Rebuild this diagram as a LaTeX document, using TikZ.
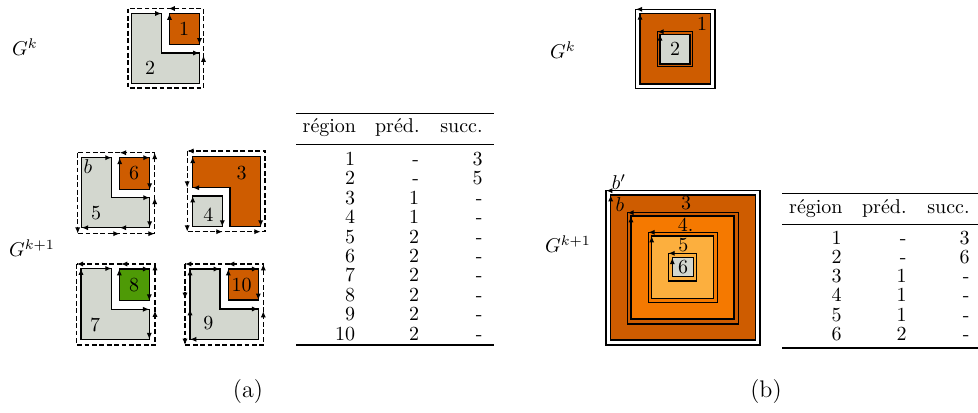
\documentclass[tikz,border=0pt]{standalone}
\usepackage{amsmath}
\usepackage{xcolor}
\usetikzlibrary{arrows.meta}

\definecolor{tgray}{HTML}{D3D7CF}
\definecolor{torange}{HTML}{CE5C00}
\definecolor{torangemid}{HTML}{F57900}
\definecolor{torangelight}{HTML}{FCAF3E}
\definecolor{tgreen}{HTML}{4E9A06}

\tikzset{
	region/.style={draw=black,line width=0.75pt},
	arr/.style={line width=0.75pt,-{Latex[length=3.2pt,width=2.6pt]}},
	tip/.style={line width=0.6pt,-{Latex[length=3.2pt,width=2.6pt]}},
	bnd/.style={line width=0.6pt,dash pattern=on 2.4pt off 1.3pt},
	hrule/.style={line width=0.8pt},
	lrule/.style={line width=0.5pt}
}

\begin{document}
\begin{tikzpicture}[x=0.5pt,y=-0.5pt]
	\useasboundingbox (0,0) rectangle (978,412);

	% (a) G^k
	\node (gk-a) at (25,47) {$G^k$};
	\begin{scope}[shift={(131.5,13.5)}]
		\draw[bnd] (-3.5,-5) rectangle (72,74.5);
		\draw[region,fill=tgray] (0,0) -- (30,0) -- (30,39.5) -- (68,39.5) -- (68,70) -- (0,70) -- cycle;
		\draw[region,fill=torange] (38,0) rectangle (68,31);
		\draw[arr] (0,0) -- (30,0);
		\draw[arr] (38,31) -- (38,0);
		\draw[arr] (68,0) -- (68,31);
		\draw[arr] (30,39.5) -- (68,39.5);
		\draw[tip] (44,-5) -- (37,-5);
		\draw[tip] (72,49) -- (72,42);
		\node (r2) at (18.5,54.5) {2};
		\node (r1) at (52.5,15.5) {1};
	\end{scope}

	% (a) G^{k+1}
	\node (gk1-a) at (32,248) {$G^{k+1}$};
	\begin{scope}[shift={(81.7,157.7)}]
		\draw[bnd] (-4,-5) rectangle (73,76);
		\draw[region,fill=tgray] (0,0) -- (30,0) -- (30,40) -- (68,40) -- (68,70) -- (0,70) -- cycle;
		\draw[region,fill=torange] (38,0) rectangle (68,32);
		\draw[arr] (0,0) -- (30,0);
		\draw[arr] (38,32) -- (38,0);
		\draw[arr] (38,0) -- (68,0);
		\draw[arr] (68,0) -- (68,32);
		\draw[arr] (30,40) -- (68,40);
		\draw[arr] (68,40) -- (68,70);
		\draw[arr] (68,70) -- (38,70);
		\draw[arr] (38,70) -- (0,70);
		\draw[tip] (45,-5) -- (38,-5);
		\draw[tip] (-4,69) -- (-4,76);
		\draw[tip] (31,76) -- (38,76);
		\draw[tip] (66,76) -- (73,76);
		\draw[tip] (73,47) -- (73,40);
		\draw[tip] (73,2) -- (73,-5);
		\node (lb) at (6.3,9.3) {$b$};
		\node (r5) at (14.3,55.3) {5};
		\node (r6) at (52.3,15.3) {6};
	\end{scope}
	\begin{scope}[shift={(192.7,156.7)}]
		\draw[bnd] (-5.5,-5.7) rectangle (72.3,75);
		\draw[region,fill=torange] (0,0) -- (68,0) -- (68,70) -- (37.5,70) -- (37.5,31) -- (0,31) -- cycle;
		\draw[region,fill=tgray] (0,39.3) rectangle (29.6,70);
		\draw[arr] (0,31) -- (0,0);
		\draw[arr] (37.5,31) -- (0,31);
		\draw[arr] (68,0) -- (68,70);
		\draw[arr] (0,70) -- (0,39.3);
		\draw[arr] (29.6,39.3) -- (29.6,70);
		\draw[tip] (1.5,-5.7) -- (-5.5,-5.7);
		\draw[tip] (-5.5,24) -- (-5.5,31);
		\draw[tip] (-5.5,68) -- (-5.5,75);
		\draw[tip] (23,75) -- (30,75);
		\draw[tip] (61,75) -- (68,75);
		\node (r3) at (49,16.6) {3};
		\node (r4) at (15.6,58.3) {4};
	\end{scope}
	\begin{scope}[shift={(81,268.5)}]
		\draw[bnd] (-4.3,-4.5) rectangle (74,76.5);
		\draw[region,fill=tgray] (0,0) -- (30.7,0) -- (30.7,40.8) -- (68.3,40.8) -- (68.3,70.8) -- (0,70.8) -- cycle;
		\draw[region,fill=tgreen] (38.3,0.5) rectangle (68.3,32.2);
		\draw[arr] (0,70.8) -- (0,0);
		\draw[arr] (0,0) -- (30.7,0);
		\draw[arr] (38.3,32.2) -- (38.3,0.5);
		\draw[arr] (38.3,0.5) -- (68.3,0.5);
		\draw[arr] (68.3,0.5) -- (68.3,32.2);
		\draw[arr] (30.7,40.8) -- (68.3,40.8);
		\draw[arr] (68.3,40.8) -- (68.3,70.8);
		\draw[tip] (2.7,-4.5) -- (-4.3,-4.5);
		\draw[tip] (47,-4.5) -- (40,-4.5);
		\draw[tip] (74,2.5) -- (74,-4.5);
		\draw[tip] (74,49) -- (74,42);
		\node (r7) at (14,56.5) {7};
		\node (r8) at (53,16.5) {8};
	\end{scope}
	\begin{scope}[shift={(190,269)}]
		\draw[bnd] (-5,-5) rectangle (73.3,76);
		\draw[region,fill=tgray] (0,0) -- (30,0) -- (30,40) -- (68.3,40) -- (68.3,70.3) -- (0,70.3) -- cycle;
		\draw[region,fill=torange] (38.3,0) rectangle (68.3,31);
		\draw[arr] (0,38) -- (0,0);
		\draw[arr] (0,70.3) -- (0,40);
		\draw[arr] (0,0) -- (30,0);
		\draw[arr] (38.3,31) -- (38.3,0);
		\draw[arr] (38.3,0) -- (68.3,0);
		\draw[arr] (68.3,0) -- (68.3,31);
		\draw[arr] (30,40) -- (68.3,40);
		\draw[arr] (68.3,70.3) -- (0,70.3);
		\draw[tip] (2,-5) -- (-5,-5);
		\draw[tip] (45,-5) -- (38,-5);
		\draw[tip] (73.3,2) -- (73.3,-5);
		\draw[tip] (73.3,49) -- (73.3,42);
		\draw[tip] (-5,23) -- (-5,30);
		\draw[tip] (-5,69) -- (-5,76);
		\node (r9) at (18.3,54.3) {9};
		\node (r10) at (51.7,16) {10};
	\end{scope}

	% table (a)
	\draw[hrule] (296,113.3) -- (494,113.3);
	\draw[lrule] (296,144.3) -- (494,144.3);
	\draw[hrule] (296,345) -- (494,345);
	\node[anchor=base east,inner sep=0] (ha-reg) at (356.5,132.5) {région};
	\node[anchor=base east,inner sep=0] (ha-pred) at (420,132.5) {préd.};
	\node[anchor=base east,inner sep=0] (ha-succ) at (483,132.5) {succ.};
	\foreach \r/\p/\s [count=\i] in {1/-/3,2/-/5,3/1/-,4/1/-,5/2/-,6/2/-,7/2/-,8/2/-,9/2/-,10/2/-}{
		\node[anchor=base east,inner sep=0] (ta-r\i) at (355.5,{165.5+19.4*(\i-1)}) {\r};
		\node[anchor=base east,inner sep=0] (ta-p\i) at (419.5,{165.5+19.4*(\i-1)}) {\p};
		\node[anchor=base east,inner sep=0] (ta-s\i) at (483,{165.5+19.4*(\i-1)}) {\s};
	}
	\node (la) at (248,392) {\large (a)};

	% (b) G^k
	\node (gk-b) at (563,50) {$G^k$};
	\draw[region,fill=white] (635.7,9.3) rectangle (715,88.3);
	\draw[region,fill=torange] (640,13.3) rectangle (710.7,84);
	\draw[region,fill=torange] (657.3,31.7) rectangle (692.7,66.7);
	\draw[region,fill=tgray] (660,34.3) rectangle (690,64);
	\draw[arr] (715,9.3) -- (635.7,9.3);
	\draw[arr] (640,84) -- (640,13.3);
	\draw[arr] (692.7,31.7) -- (657.3,31.7);
	\draw[arr] (660,64) -- (660,34.3);
	\node (s1) at (702,24) {1};
	\node (s2) at (675,49) {2};

	% (b) G^{k+1}
	\node (gk1-b) at (568,244) {$G^{k+1}$};
	\draw[region,fill=white] (606,190.7) rectangle (760,345);
	\draw[region,fill=torange] (610.7,195) rectangle (755.7,340);
	\draw[region,fill=torange] (627.3,212.7) rectangle (738.3,324);
	\draw[region,fill=torangemid] (631,216) rectangle (734,319);
	\draw[region,fill=torangemid] (648.3,232.3) rectangle (717.3,302.7);
	\draw[region,fill=torangelight] (651.7,236) rectangle (713.3,298.3);
	\draw[region,fill=torangelight] (668.3,253.3) rectangle (696.7,281);
	\draw[region,fill=tgray] (672.3,257.7) rectangle (693.3,276.7);
	\draw[arr] (760,190.7) -- (606,190.7);
	\draw[arr] (610.7,340) -- (610.7,195);
	\draw[arr] (738.3,212.7) -- (627.3,212.7);
	\draw[arr] (631,319) -- (631,216);
	\draw[arr] (717.3,232.3) -- (648.3,232.3);
	\draw[arr] (651.7,298.3) -- (651.7,236);
	\draw[arr] (696.7,253.3) -- (668.3,253.3);
	\draw[arr] (672.3,276.7) -- (672.3,257.7);
	\node (lbp) at (619,182) {$b'$};
	\node (lb2) at (620,205) {$b$};
	\node (s3) at (686,203.3) {3};
	\node (s4) at (685.7,225) {4.};
	\node (s5) at (683.3,245) {5};
	\node (s6) at (683,267.5) {6};

	% table (b)
	\draw[hrule] (782,193.3) -- (978,193.3);
	\draw[lrule] (782,224.3) -- (978,224.3);
	\draw[hrule] (782,348) -- (978,348);
	\node[anchor=base east,inner sep=0] (hb-reg) at (843,213.5) {région};
	\node[anchor=base east,inner sep=0] (hb-pred) at (907,213.5) {préd.};
	\node[anchor=base east,inner sep=0] (hb-succ) at (970,213.5) {succ.};
	\foreach \r/\p/\s [count=\i] in {1/-/3,2/-/6,3/1/-,4/1/-,5/1/-,6/2/-}{
		\node[anchor=base east,inner sep=0] (tb-r\i) at (842,{244+19.3*(\i-1)}) {\r};
		\node[anchor=base east,inner sep=0] (tb-p\i) at (907,{244+19.3*(\i-1)}) {\p};
		\node[anchor=base east,inner sep=0] (tb-s\i) at (970,{244+19.3*(\i-1)}) {\s};
	}
	\node (lbb) at (766,392) {\large (b)};
\end{tikzpicture}
\end{document}
